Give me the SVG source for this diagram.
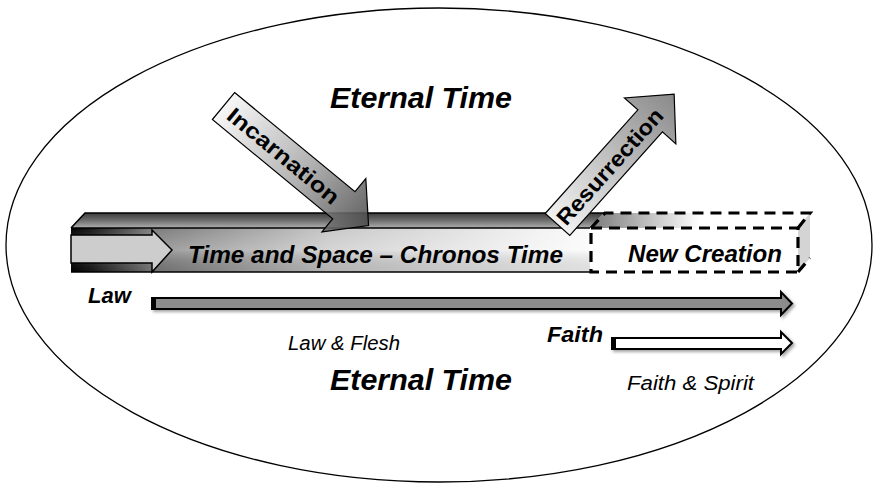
<svg xmlns="http://www.w3.org/2000/svg" width="880" height="485" viewBox="0 0 880 485">
<defs>
<style>
.t{font-family:"Liberation Sans",Arial,sans-serif;fill:#000}
.bi{font-weight:bold;font-style:italic}
.i{font-style:italic}
.b{font-weight:bold}
.dash{fill:none;stroke:#000;stroke-width:3.2;stroke-dasharray:11 7}
.edge{stroke:#000;stroke-width:1.6;fill:none}
</style>
<linearGradient id="front" x1="71" y1="0" x2="590" y2="0" gradientUnits="userSpaceOnUse">
<stop offset="0" stop-color="#000"/>
<stop offset="0.04" stop-color="#1a1a1a"/>
<stop offset="0.15" stop-color="#7a7a7a"/>
<stop offset="0.5" stop-color="#c8c8c8"/>
<stop offset="0.9" stop-color="#f2f2f2"/>
<stop offset="1" stop-color="#fafafa"/>
</linearGradient>
<linearGradient id="frontV" x1="0" y1="0" x2="0" y2="1">
<stop offset="0" stop-color="#fff" stop-opacity="0"/>
<stop offset="0.5" stop-color="#fff" stop-opacity="0.25"/>
<stop offset="1" stop-color="#000" stop-opacity="0.1"/>
</linearGradient>
<linearGradient id="top" x1="0" y1="213" x2="0" y2="228" gradientUnits="userSpaceOnUse">
<stop offset="0" stop-color="#3c3c3c"/>
<stop offset="0.5" stop-color="#6e6e6e"/>
<stop offset="1" stop-color="#b0b0b0"/>
</linearGradient>
<linearGradient id="ncTop" x1="590" y1="0" x2="700" y2="0" gradientUnits="userSpaceOnUse">
<stop offset="0" stop-color="#7a7a7a"/>
<stop offset="1" stop-color="#fff"/>
</linearGradient>
<linearGradient id="inc" x1="0" y1="0" x2="1" y2="0">
<stop offset="0" stop-color="#f6f6f6"/>
<stop offset="0.55" stop-color="#a8a8a8"/>
<stop offset="1" stop-color="#4a4a4a"/>
</linearGradient>
<linearGradient id="res" x1="0" y1="0" x2="1" y2="0">
<stop offset="0" stop-color="#f2f2f2"/>
<stop offset="0.6" stop-color="#b4b4b4"/>
<stop offset="1" stop-color="#8a8a8a"/>
</linearGradient>
<filter id="sh" x="-5%" y="-50%" width="110%" height="200%">
<feDropShadow dx="2" dy="2" stdDeviation="1.5" flood-color="#000" flood-opacity="0.35"/>
</filter>
</defs>

<g id="eternity">
<ellipse cx="439" cy="245" rx="433" ry="237" fill="none" stroke="#000" stroke-width="1.3"/>
<text class="t bi" x="330" y="108" font-size="29" textLength="182" lengthAdjust="spacingAndGlyphs">Eternal Time</text>
<text class="t bi" x="330" y="390" font-size="29" textLength="182" lengthAdjust="spacingAndGlyphs">Eternal Time</text>
</g>

<g id="chronos-bar">
<polygon points="71,228 85,213 604,213 590,228" fill="url(#top)"/>
<rect x="71" y="228" width="519" height="44" fill="url(#front)"/>
<rect x="71" y="228" width="519" height="44" fill="url(#frontV)"/>
<polyline class="edge" points="71,228 85,213 604,213"/>
<line class="edge" x1="71" y1="228" x2="590" y2="228"/>
<line class="edge" x1="71" y1="272" x2="590" y2="272"/>
<polygon points="71,235 152,235 152,230 172,250 152,272 152,263 71,263" fill="#cdcdcd" stroke="#000" stroke-width="1.5"/>
<text class="t bi" x="188" y="263" font-size="24" textLength="375" lengthAdjust="spacingAndGlyphs">Time and Space – Chronos Time</text>
</g>

<g id="new-creation">
<polygon points="590,228 604,213 810,213 798,228" fill="url(#ncTop)"/>
<polygon points="798,228 810,213 810,258 798,272" fill="#d4d4d4"/>
<rect class="dash" x="591" y="228" width="207" height="44"/>
<polyline class="dash" points="591,228 605,213 810,213 798,228"/>
<line class="dash" x1="798" y1="272" x2="810" y2="258"/>
<text class="t bi" x="628" y="262" font-size="24" textLength="154" lengthAdjust="spacingAndGlyphs">New Creation</text>
</g>

<g id="incarnation" transform="translate(223.5,106) rotate(39.5)">
<polygon points="0,-17.5 156,-17.5 156,-34.5 188,0 156,34.5 156,17.5 0,17.5" fill="url(#inc)" fill-opacity="0.88" stroke="#000" stroke-width="1.2"/>
<text class="t b" x="78" y="8" font-size="22" text-anchor="middle" textLength="138" lengthAdjust="spacingAndGlyphs">Incarnation</text>
</g>

<g id="resurrection" transform="translate(557.5,224.5) rotate(-48.2)">
<polygon points="0,-16.5 139,-16.5 139,-34.5 175,0 139,34.5 139,16.5 0,16.5" fill="url(#res)" stroke="#000" stroke-width="1.2"/>
<text class="t b" x="78" y="8" font-size="22" text-anchor="middle" textLength="148" lengthAdjust="spacingAndGlyphs">Resurrection</text>
</g>

<g id="law">
<text class="t bi" x="88" y="303" font-size="22">Law</text>
<polygon points="152,298 781,298 781,292 792,303.5 781,315 781,309 152,309" fill="#8c8c8c" stroke="#000" stroke-width="2" filter="url(#sh)"/>
<rect x="151" y="297" width="5" height="13" fill="#000"/>
<text class="t i" x="288" y="350" font-size="20" textLength="112" lengthAdjust="spacingAndGlyphs">Law &amp; Flesh</text>
</g>

<g id="faith">
<text class="t bi" x="547" y="342" font-size="22" textLength="56" lengthAdjust="spacingAndGlyphs">Faith</text>
<polygon points="612,338 781,338 781,332 792,343 781,354 781,349 612,349" fill="#fff" stroke="#000" stroke-width="2" filter="url(#sh)"/>
<rect x="611" y="337" width="5" height="13" fill="#000"/>
<text class="t i" x="627" y="390" font-size="20" textLength="127" lengthAdjust="spacingAndGlyphs">Faith &amp; Spirit</text>
</g>
</svg>
